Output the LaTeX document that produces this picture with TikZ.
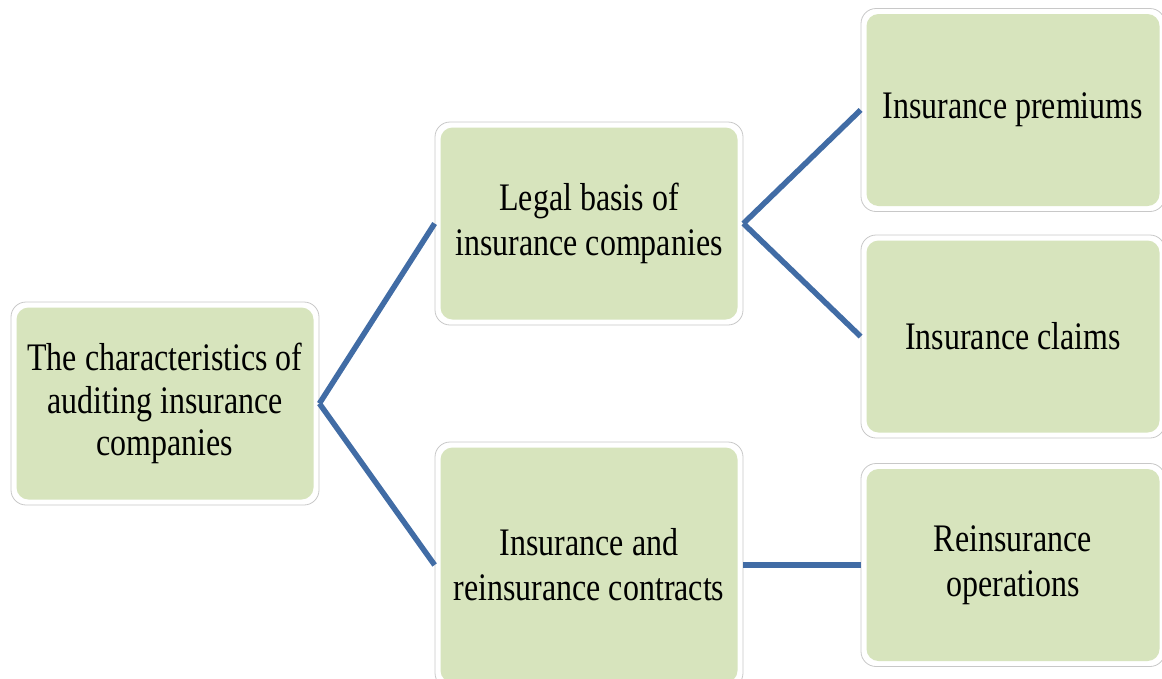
\documentclass[tikz,border=0pt]{standalone}
\usepackage{fontspec}
\setmainfont{Liberation Serif}[FakeStretch=0.82]
\definecolor{boxgreen}{RGB}{215,228,189}
\definecolor{linkblue}{RGB}{65,108,165}
\definecolor{framegray}{RGB}{200,200,200}
\tikzset{
  card/.style={draw=framegray, line width=0.8pt, fill=white, rounded corners=15pt,
    minimum width=308pt, minimum height=203pt, align=center, text=black,
    font=\fontsize{39pt}{45pt}\selectfont,
    path picture={\fill[boxgreen, rounded corners=12pt]
      ([shift={(5.5pt,-5.5pt)}]path picture bounding box.north west) rectangle
      ([shift={(-5.5pt,5.5pt)}]path picture bounding box.south east);}},
  link/.style={draw=linkblue, line width=5.5pt}
}
\begin{document}
\begin{tikzpicture}[x=1pt,y=-1pt]
\useasboundingbox (0,0) rectangle (1162,678);
\clip (0,0) rectangle (1162,678);
\node[card, font=\fontsize{39pt}{42.5pt}\selectfont] (root) at (165,403.5) {The characteristics of\\auditing insurance\\companies};
\node[card] (legal) at (589,223.5) {Legal basis of\\insurance companies};
\node[card, minimum height=246pt] (contracts) at (589,565) {Insurance and\\reinsurance contracts};
\node[card, minimum width=304pt] (premiums) at (1013,110) {Insurance premiums};
\node[card, minimum width=304pt] (claims) at (1013,336.5) {Insurance claims};
\node[card, minimum width=304pt] (reins) at (1013,565) {Reinsurance\\operations};
\draw[link] (root.east) -- (legal.west);
\draw[link] (root.east) -- (contracts.west);
\draw[link] (legal.east) -- (premiums.west);
\draw[link] (legal.east) -- (claims.west);
\draw[link] (contracts.east) -- (reins.west);
\end{tikzpicture}
\end{document}
